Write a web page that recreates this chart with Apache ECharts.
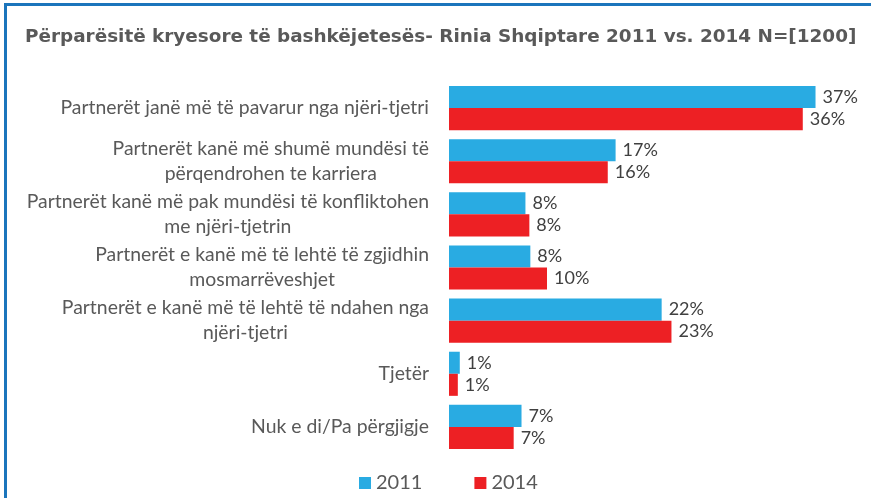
<!DOCTYPE html>
<html>
<head>
<meta charset="utf-8">
<script src="https://cdn.jsdelivr.net/npm/echarts@6/dist/echarts.min.js"></script>
<style>
  html, body { margin: 0; padding: 0; background: #fff; }
  #chart { width: 871px; height: 498px; }
</style>
</head>
<body>
<div id="chart"></div>
<script>
var myChart = echarts.init(document.getElementById("chart"));

var categories = [
  "Partnerët janë më të pavarur nga njëri-tjetri",
  "Partnerët kanë më shumë mundësi të\npërqendrohen te karriera",
  "Partnerët kanë më pak mundësi të konfliktohen\nme njëri-tjetrin",
  "Partnerët e kanë më të lehtë të zgjidhin\nmosmarrëveshjet",
  "Partnerët e kanë më të lehtë të ndahen nga\nnjëri-tjetri",
  "Tjetër",
  "Nuk e di/Pa përgjigje",
];
var values2011 = [37.4, 17.0, 7.8, 8.3, 21.7, 1.1, 7.4];
var values2014 = [36.1, 16.2, 8.2, 10.0, 22.7, 0.9, 6.6];

var labelFont = "Lato";
var labelSize = 19.4;
var grey = "#595959";

// multi-line labels: lines centred on each other, block right-aligned to the axis
var ctx = document.createElement("canvas").getContext("2d");
ctx.font = labelSize + "px " + labelFont;
var catItems = categories.map(function (c) {
  var w = 0;
  c.split("\n").forEach(function (s) {
    w = Math.max(w, ctx.measureText(s).width);
  });
  return { value: c, textStyle: { align: "center", padding: [0, w, 0, 0] } };
});

var barLabel = {
  show: true,
  position: "right",
  distance: 7,
  color: "#404040",
  fontFamily: labelFont,
  fontSize: 18,
  formatter: function (p) {
    return Math.round(p.value) + "%";
  },
};

var option = {
  backgroundColor: "#fff",
  animation: false,
  title: {
    text: "Përparësitë kryesore të bashkëjetesës- Rinia Shqiptare 2011 vs. 2014 N=[1200]",
    left: 20,
    top: 23,
    textStyle: {
      color: grey,
      fontFamily: "DejaVu Sans",
      fontWeight: "bold",
      fontSize: 18.4,
    },
  },
  graphic: [
    { type: "rect", shape: { x: 5, y: 3, width: 866, height: 3 }, style: { fill: "#1b75bc" } },
    { type: "rect", shape: { x: 4, y: 3, width: 3, height: 495 }, style: { fill: "#1b75bc" } },
  ],
  legend: {
    left: 354,
    top: 468,
    icon: "rect",
    itemWidth: 12,
    itemHeight: 12,
    itemGap: 52,
    textStyle: { color: grey, fontFamily: labelFont, fontSize: 20 },
    data: ["2011", "2014"],
  },
  grid: {
    left: 449,
    top: 81.5,
    width: 392,
    height: 372,
  },
  xAxis: {
    type: "value",
    min: 0,
    max: 40,
    show: false,
  },
  yAxis: {
    type: "category",
    inverse: true,
    data: catItems,
    axisLine: { show: false },
    axisTick: { show: false },
    axisLabel: {
      interval: 0,
      margin: 20,
      color: grey,
      fontFamily: labelFont,
      fontSize: labelSize,
      lineHeight: 25,
    },
  },
  series: [
    {
      name: "2011",
      type: "bar",
      data: values2011,
      barGap: 0,
      barCategoryGap: "17%",
      itemStyle: { color: "#29abe2" },
      label: barLabel,
    },
    {
      name: "2014",
      type: "bar",
      data: values2014,
      barGap: 0,
      barCategoryGap: "17%",
      itemStyle: { color: "#ed2024" },
      label: barLabel,
    },
  ],
};
myChart.setOption(option);
</script>
</body>
</html>
